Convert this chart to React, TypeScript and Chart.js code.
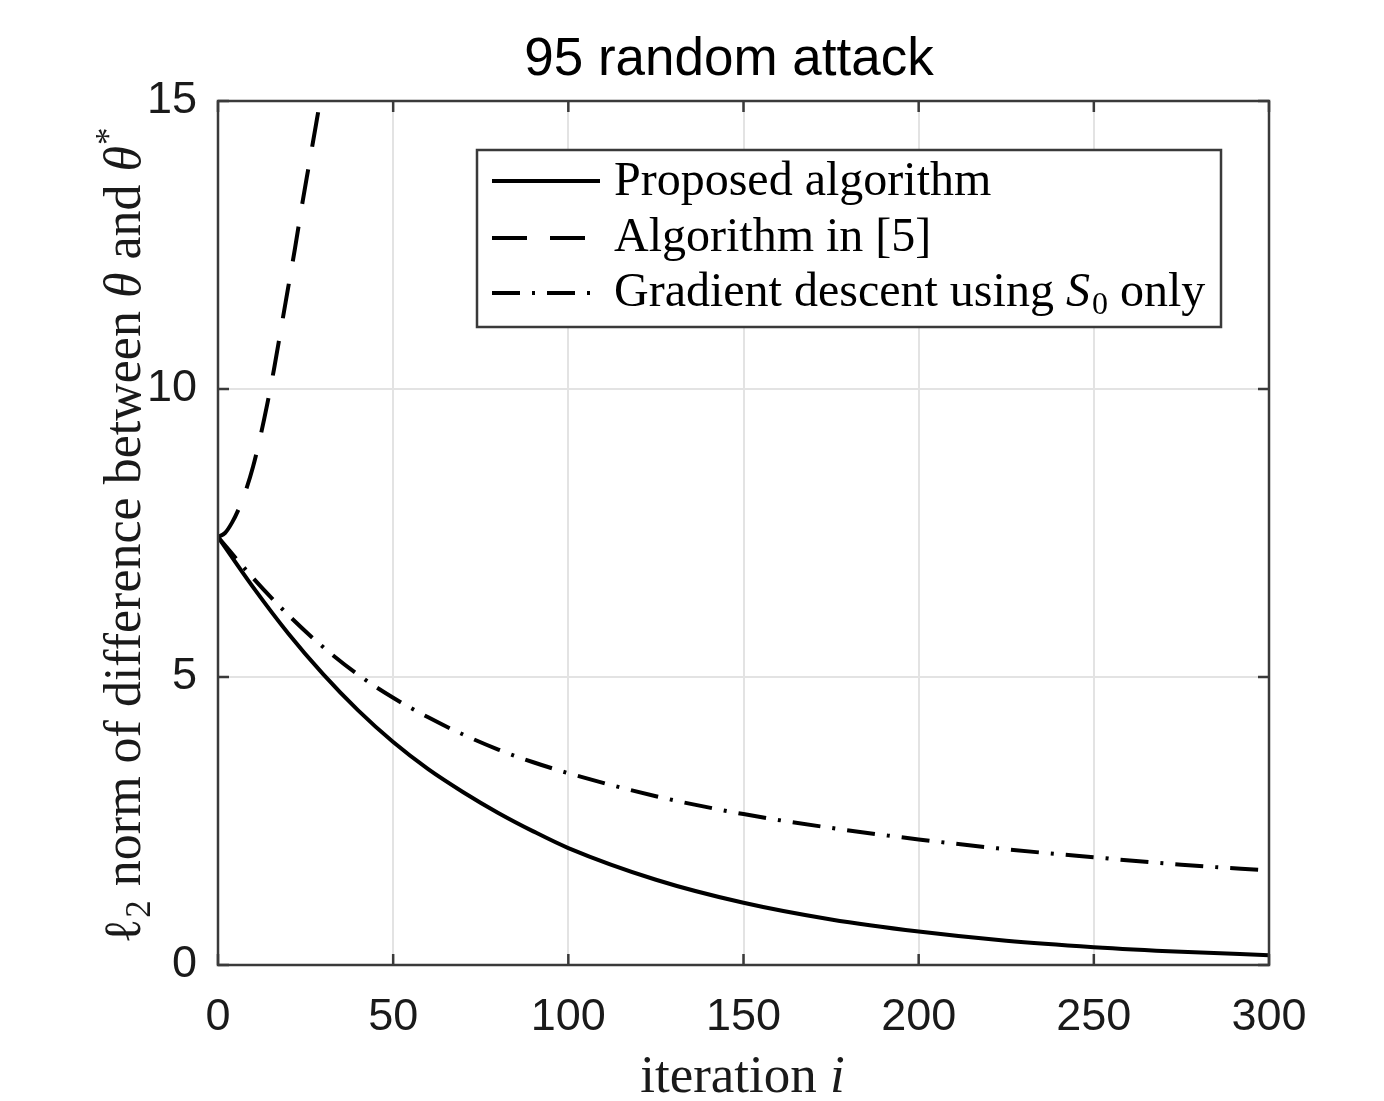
import React, { useEffect, useRef } from "react";
import { Chart, registerables } from "chart.js";

Chart.register(...registerables);

// ---- data ----
const proposedIter = [0, 10, 20, 30, 40, 50, 60, 70, 80, 90, 100, 125, 150, 175, 200, 225, 250, 275, 300];
const proposedValues = [7.43, 6.56, 5.76, 5.05, 4.42, 3.87, 3.4, 3.0, 2.64, 2.32, 2.03, 1.48, 1.08, 0.79, 0.58, 0.42, 0.31, 0.23, 0.17];

const gradientIter = [0, 10, 20, 30, 40, 50, 60, 70, 80, 90, 100, 125, 150, 175, 200, 225, 250, 275, 300];
const gradientValues = [7.43, 6.72, 6.08, 5.52, 5.04, 4.64, 4.3, 4.0, 3.74, 3.52, 3.33, 2.93, 2.62, 2.38, 2.18, 2.01, 1.87, 1.74, 1.64];

const ref5Iter = [0, 2, 4, 6, 8, 10, 12, 14, 16, 18, 20, 22, 24, 26, 28, 30, 32];
const ref5Values = [7.43, 7.5, 7.68, 7.93, 8.25, 8.65, 9.15, 9.72, 10.35, 11.05, 11.75, 12.45, 13.2, 13.9, 14.6, 15.3, 16.0];

const xTicks = [0, 50, 100, 150, 200, 250, 300];
const yTicks = [0, 5, 10, 15];

const chartTitle = "95 random attack";
// label parts: [text, style] where style: "r" regular, "i" italic, "sub" subscript, "sup" superscript
const xLabelParts: [string, string][] = [["iteration ", "r"], ["i", "i"]];
const yLabelParts: [string, string][] = [
  ["\u2113", "r"],
  ["2", "sub"],
  [" norm of difference between ", "r"],
  ["\u03B8", "i"],
  [" and ", "r"],
  ["\u03B8", "i"],
  ["*", "sup"],
];
const legendLabels = ["Proposed algorithm", "Algorithm in [5]", "Gradient descent using S\u2080 only"];

const DASHED = [35, 23];
const DASHDOT = [28, 12, 3, 12];
const SERIF = "'Liberation Serif', 'Times New Roman', serif";
const SANS = "'Liberation Sans', Arial, Helvetica, sans-serif";

const pts = (xs: number[], ys: number[]) => xs.map((x, i) => ({ x, y: ys[i] }));

function partFont(style: string, size: number) {
  if (style === "i") return `italic ${size}px ${SERIF}`;
  if (style === "sub" || style === "sup") return `${Math.round(size * 0.68)}px ${SERIF}`;
  return `${size}px ${SERIF}`;
}

function drawParts(ctx: CanvasRenderingContext2D, parts: [string, string][], cx: number, base: number, size: number) {
  let total = 0;
  parts.forEach(([t, s]) => {
    ctx.font = partFont(s, size);
    total += ctx.measureText(t).width + (s === "sub" || s === "sup" ? 2 : 0);
  });
  let x = cx - total / 2;
  ctx.textAlign = "left";
  ctx.textBaseline = "alphabetic";
  parts.forEach(([t, s]) => {
    ctx.font = partFont(s, size);
    let dy = 0;
    if (s === "sub") dy = size * 0.2;
    if (s === "sup") dy = -size * 0.38;
    const extra = s === "sub" || s === "sup" ? 2 : 0;
    ctx.fillText(t, x + extra / 2, base + dy);
    x += ctx.measureText(t).width + extra;
  });
}

const decorPlugin = {
  id: "decor",
  afterDatasetsDraw(chart: any) {
    const { ctx, chartArea, scales } = chart;
    const { left, right, top, bottom } = chartArea;
    const xs = scales.x;
    const ys = scales.y;
    ctx.save();
    // axes box
    ctx.strokeStyle = "#3a3a3a";
    ctx.lineWidth = 2.5;
    ctx.setLineDash([]);
    ctx.strokeRect(left, top, right - left, bottom - top);
    // inward ticks
    const tl = 11;
    ctx.beginPath();
    xTicks.forEach((v) => {
      const p = xs.getPixelForValue(v);
      ctx.moveTo(p, bottom);
      ctx.lineTo(p, bottom - tl);
      ctx.moveTo(p, top);
      ctx.lineTo(p, top + tl);
    });
    yTicks.forEach((v) => {
      const p = ys.getPixelForValue(v);
      ctx.moveTo(left, p);
      ctx.lineTo(left + tl, p);
      ctx.moveTo(right, p);
      ctx.lineTo(right - tl, p);
    });
    ctx.stroke();

    // legend box
    const bx = 477, by = 150, bw = 1221 - 477, bh = 327 - 150;
    ctx.fillStyle = "#ffffff";
    ctx.fillRect(bx, by, bw, bh);
    ctx.strokeStyle = "#3a3a3a";
    ctx.lineWidth = 2.5;
    ctx.strokeRect(bx, by, bw, bh);

    const dashes = [[], DASHED, DASHDOT];
    const lineYs = [181, 238, 293];
    const baseYs = [195, 251, 306];
    ctx.strokeStyle = "#000000";
    ctx.fillStyle = "#000000";
    ctx.lineWidth = 4;
    ctx.lineCap = "butt";
    legendLabels.forEach((label, i) => {
      ctx.setLineDash(dashes[i]);
      ctx.beginPath();
      ctx.moveTo(492, lineYs[i]);
      ctx.lineTo(600, lineYs[i]);
      ctx.stroke();
      ctx.setLineDash([]);
      ctx.textAlign = "left";
      ctx.textBaseline = "alphabetic";
      const k = label.indexOf("S\u2080");
      let x = 614;
      if (k < 0) {
        ctx.font = `48px ${SERIF}`;
        ctx.fillText(label, x, baseYs[i]);
      } else {
        const before = label.slice(0, k);
        const after = label.slice(k + 2);
        ctx.font = `48px ${SERIF}`;
        ctx.fillText(before, x, baseYs[i]);
        x += ctx.measureText(before).width;
        ctx.font = `italic 48px ${SERIF}`;
        ctx.fillText("S", x, baseYs[i]);
        x += ctx.measureText("S").width + 2;
        ctx.font = `32px ${SERIF}`;
        ctx.fillText("0", x, baseYs[i] + 8);
        x += ctx.measureText("0").width;
        ctx.font = `48px ${SERIF}`;
        ctx.fillText(after, x, baseYs[i]);
      }
    });
    ctx.restore();
  },
  afterDraw(chart: any) {
    const { ctx, chartArea } = chart;
    ctx.save();
    ctx.fillStyle = "#000000";
    ctx.font = `53px ${SANS}`;
    ctx.textAlign = "center";
    ctx.textBaseline = "alphabetic";
    ctx.fillText(chartTitle, 729, 75);

    ctx.fillStyle = "#1a1a1a";
    const cx = (chartArea.left + chartArea.right) / 2;
    drawParts(ctx, xLabelParts, cx - 1, 1092, 53);

    ctx.save();
    ctx.translate(140, (chartArea.top + chartArea.bottom) / 2 + 2);
    ctx.rotate(-Math.PI / 2);
    drawParts(ctx, yLabelParts, 0, 0, 52);
    ctx.restore();
    ctx.restore();
  },
};

export default function App() {
  const canvasRef = useRef<HTMLCanvasElement | null>(null);

  useEffect(() => {
    const canvas = canvasRef.current;
    if (!canvas) return;
    const chart = new Chart(canvas, {
      type: "line",
      data: {
        datasets: [
          {
            label: legendLabels[0],
            data: pts(proposedIter, proposedValues),
            borderColor: "#000000",
            borderWidth: 4,
            pointRadius: 0,
            cubicInterpolationMode: "monotone",
            fill: false,
          },
          {
            label: legendLabels[1],
            data: pts(ref5Iter, ref5Values),
            borderColor: "#000000",
            borderWidth: 4,
            borderDash: DASHED,
            pointRadius: 0,
            cubicInterpolationMode: "monotone",
            fill: false,
            clip: 0,
          },
          {
            label: legendLabels[2],
            data: pts(gradientIter, gradientValues),
            borderColor: "#000000",
            borderWidth: 4,
            borderDash: DASHDOT,
            pointRadius: 0,
            cubicInterpolationMode: "monotone",
            fill: false,
          },
        ],
      },
      options: {
        responsive: false,
        animation: false,
        layout: { padding: { top: 101, right: 115, bottom: 0, left: 0 } },
        plugins: {
          legend: { display: false },
          title: { display: false },
          tooltip: { enabled: false },
        },
        scales: {
          x: {
            type: "linear",
            min: 0,
            max: 300,
            afterFit: (s: any) => {
              s.height = 136;
            },
            afterBuildTicks: (s: any) => {
              s.ticks = xTicks.map((v) => ({ value: v }));
            },
            ticks: {
              color: "#1a1a1a",
              font: { family: SANS, size: 45 },
              padding: 26,
              maxRotation: 0,
              autoSkip: false,
            },
            grid: { color: "#e3e3e3", lineWidth: 2, drawTicks: false },
            border: { display: false },
            title: { display: false },
          },
          y: {
            type: "linear",
            min: 0,
            max: 15,
            afterFit: (s: any) => {
              s.width = 218;
            },
            afterBuildTicks: (s: any) => {
              s.ticks = yTicks.map((v) => ({ value: v }));
            },
            ticks: {
              color: "#1a1a1a",
              font: { family: SANS, size: 45 },
              padding: 21,
            },
            grid: { color: "#e3e3e3", lineWidth: 2, drawTicks: false },
            border: { display: false },
            title: { display: false },
          },
        },
      },
      plugins: [decorPlugin],
    });
    return () => chart.destroy();
  }, []);

  return (
    <canvas
      ref={canvasRef}
      width={1384}
      height={1101}
      style={{ position: "absolute", left: 0, top: 0, width: 1384, height: 1101, display: "block" }}
    />
  );
}
